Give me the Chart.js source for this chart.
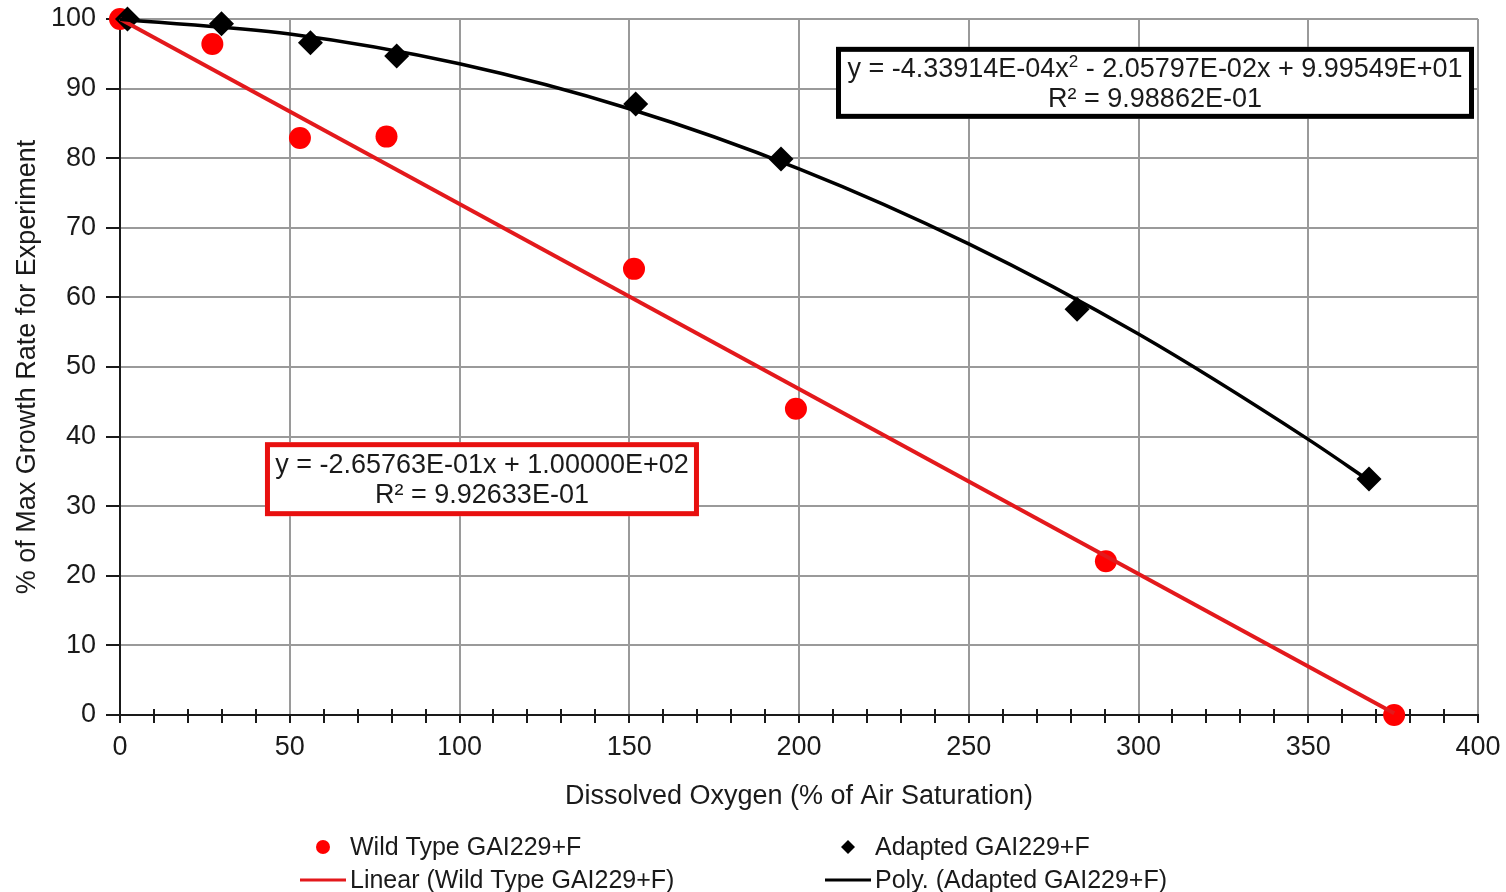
<!DOCTYPE html>
<html>
<head>
<meta charset="utf-8">
<script src="https://cdn.jsdelivr.net/npm/chart.js@4.4.0/dist/chart.umd.min.js"></script>
<style>
html, body { margin: 0; padding: 0; background: #fff; overflow: hidden; }
#wrap { position: relative; width: 1506px; height: 892px; }
</style>
</head>
<body>
<div id="wrap"><canvas id="myChart"></canvas></div>
<script>
// measured points
var wild_x = [0, 27.2, 53.0, 78.5, 151.4, 199.1, 290.4, 375.3];
var wild_y = [100, 96.4, 82.9, 83.1, 64.1, 44.0, 22.1, 0];
var adapted_x = [2.2, 29.9, 56.1, 81.5, 151.9, 194.7, 281.9, 367.9];
var adapted_y = [100, 99.3, 96.6, 94.7, 87.8, 79.9, 58.3, 33.9];

// trend lines
var linear_x = [0, 375.3];
var linear_y = [100, 0.26];
var poly_x = [0, 50, 100, 150, 200, 250, 300, 350, 367.9];
var poly_y = [99.95, 97.84, 93.56, 87.11, 78.48, 67.69, 54.73, 39.60, 33.68];

var x_ticks = [0, 50, 100, 150, 200, 250, 300, 350, 400];
var y_ticks = [0, 10, 20, 30, 40, 50, 60, 70, 80, 90, 100];

var legend_names = ["Wild Type GAI229+F", "Adapted GAI229+F", "Linear (Wild Type GAI229+F)", "Poly. (Adapted GAI229+F)"];
var poly_eq = ["y = -4.33914E-04x", "2", " - 2.05797E-02x + 9.99549E+01"];
var poly_r2 = "R\u00b2 = 9.98862E-01";
var linear_eq = "y = -2.65763E-01x + 1.00000E+02";
var linear_r2 = "R\u00b2 = 9.92633E-01";

var font_family = "'Liberation Sans', Arial, sans-serif";
var font_size = 27;
var text_color = "#1a1a1a";
var red = "#ff0000";
var red_line = "#e3191c";

function to_points(xs, ys) {
    var pts = [];
    for (let i = 0; i < xs.length; i++) {
        pts.push({ x: xs[i], y: ys[i] });
    }
    return pts;
}

function draw_eq_box(ctx, left, top, w, h, color, line1, line2) {
    ctx.fillStyle = "#fff";
    ctx.fillRect(left, top, w, h);
    ctx.lineWidth = 5;
    ctx.strokeStyle = color;
    ctx.strokeRect(left + 2.5, top + 2.5, w - 5, h - 5);

    var cx = left + w / 2;
    ctx.fillStyle = text_color;
    ctx.textBaseline = "middle";
    var big = font_size + "px " + font_family;
    var small = "17px " + font_family;

    // line 1, may hold a superscript part
    var parts = Array.isArray(line1) ? line1 : [line1];
    var widths = [];
    var total = 0;
    for (let i = 0; i < parts.length; i++) {
        ctx.font = (i === 1) ? small : big;
        widths.push(ctx.measureText(parts[i]).width);
        total += widths[i];
    }
    var px = cx - total / 2;
    ctx.textAlign = "left";
    for (let i = 0; i < parts.length; i++) {
        ctx.font = (i === 1) ? small : big;
        ctx.fillText(parts[i], px, top + 23 + (i === 1 ? -8 : 0));
        px += widths[i];
    }
    ctx.font = big;
    ctx.textAlign = "center";
    ctx.fillText(line2, cx, top + 53);
}

var extras = {
    id: "extras",
    afterDraw: function (chart) {
        var ctx = chart.ctx;
        var xs = chart.scales.x;
        var ys = chart.scales.y;
        ctx.save();

        // minor ticks on the x axis
        ctx.strokeStyle = text_color;
        ctx.lineWidth = 2;
        for (let v = 10; v < 400; v += 10) {
            if (v % 50 === 0) continue;
            let p = Math.round(xs.getPixelForValue(v));
            ctx.beginPath();
            ctx.moveTo(p, ys.bottom - 6);
            ctx.lineTo(p, ys.bottom + 8);
            ctx.stroke();
        }

        // trendline equations
        draw_eq_box(ctx, xs.getPixelForValue(210.9), ys.getPixelForValue(96.0), 638, 72, "#000", poly_eq, poly_r2);
        draw_eq_box(ctx, xs.getPixelForValue(42.7), ys.getPixelForValue(39.2), 434, 74, "#e8100f", linear_eq, linear_r2);

        // legend, two columns
        var cols = [300, 825];
        var rows = [847, 880];
        var ds = chart.data.datasets;
        ctx.font = "25px " + font_family;
        ctx.textAlign = "left";
        ctx.textBaseline = "middle";
        for (let i = 0; i < 4; i++) {
            let d = ds[i];
            let col = cols[i % 2];
            let row = rows[Math.floor(i / 2)];
            if (i < 2) {
                ctx.fillStyle = d.backgroundColor;
                ctx.beginPath();
                if (d.pointStyle === "circle") {
                    ctx.arc(col + 23, row, 7, 0, Math.PI * 2);
                } else {
                    ctx.moveTo(col + 23 - 7, row);
                    ctx.lineTo(col + 23, row - 7);
                    ctx.lineTo(col + 23 + 7, row);
                    ctx.lineTo(col + 23, row + 7);
                    ctx.closePath();
                }
                ctx.fill();
            } else {
                ctx.strokeStyle = d.borderColor;
                ctx.lineWidth = 3;
                ctx.beginPath();
                ctx.moveTo(col, row);
                ctx.lineTo(col + 46, row);
                ctx.stroke();
            }
            ctx.fillStyle = text_color;
            ctx.fillText(legend_names[i], col + 50, row + 1);
        }
        ctx.restore();
    }
};

function make_datasets() {
    return [
        {
            label: legend_names[0],
            data: to_points(wild_x, wild_y),
            showLine: false,
            pointStyle: "circle",
            pointRadius: 11,
            backgroundColor: red,
            borderColor: red,
            borderWidth: 0,
            clip: false,
            order: 3
        },
        {
            label: legend_names[1],
            data: to_points(adapted_x, adapted_y),
            showLine: false,
            pointStyle: "rectRot",
            pointRadius: 12.5,
            backgroundColor: "#000",
            borderColor: "#000",
            borderWidth: 0,
            clip: false,
            order: 2
        },
        {
            label: legend_names[2],
            data: to_points(linear_x, linear_y),
            showLine: true,
            pointRadius: 0,
            borderColor: red_line,
            backgroundColor: red_line,
            borderWidth: 4,
            clip: false,
            order: 1
        },
        {
            label: legend_names[3],
            data: to_points(poly_x, poly_y),
            showLine: true,
            pointRadius: 0,
            cubicInterpolationMode: "monotone",
            borderColor: "#000",
            backgroundColor: "#000",
            borderWidth: 3.5,
            clip: false,
            order: 0
        }
    ];
}

function chart_stats() {
    var ctx = document.getElementById("myChart").getContext("2d");
    var tickFont = { family: font_family, size: font_size };
    var chartConfig = {
        type: "scatter",
        data: { datasets: make_datasets() },
        options: {
            responsive: true,
            maintainAspectRatio: false,
            animation: false,
            events: [],
            layout: { padding: { left: 0, right: 28, top: 19, bottom: 72 } },
            scales: {
                x: {
                    type: "linear",
                    min: x_ticks[0],
                    max: x_ticks[x_ticks.length - 1],
                    afterBuildTicks: function (s) { s.ticks = x_ticks.map(v => ({ value: v })); },
                    afterFit: function (s) {
                        s.height = 105;
                        s.paddingLeft = 0;
                        s.paddingRight = 0;
                    },
                    ticks: { color: text_color, font: tickFont, padding: 8, maxRotation: 0 },
                    grid: { color: "#9a9a9a", lineWidth: 2, tickColor: text_color, tickLength: 8, tickWidth: 2 },
                    border: { color: text_color, width: 2 },
                    title: {
                        display: true,
                        text: "Dissolved Oxygen (% of Air Saturation)",
                        color: text_color,
                        font: tickFont,
                        padding: { top: 0, bottom: 7 }
                    }
                },
                y: {
                    type: "linear",
                    min: y_ticks[0],
                    max: y_ticks[y_ticks.length - 1],
                    afterBuildTicks: function (s) { s.ticks = y_ticks.map(v => ({ value: v })); },
                    afterFit: function (s) {
                        s.width = 120;
                        s.paddingTop = 0;
                        s.paddingBottom = 0;
                    },
                    ticks: { color: text_color, font: tickFont, padding: 10 },
                    grid: { color: "#9a9a9a", lineWidth: 2, tickColor: text_color, tickLength: 14, tickWidth: 2 },
                    border: { color: text_color, width: 2 },
                    title: {
                        display: true,
                        text: "% of Max Growth Rate for Experiment",
                        color: text_color,
                        font: tickFont,
                        padding: { top: 11, bottom: 0 }
                    }
                }
            },
            plugins: {
                legend: { display: false },
                tooltip: { enabled: false }
            }
        },
        plugins: [extras]
    };
    return new Chart(ctx, chartConfig);
}

var chart = chart_stats();
</script>
</body>
</html>
